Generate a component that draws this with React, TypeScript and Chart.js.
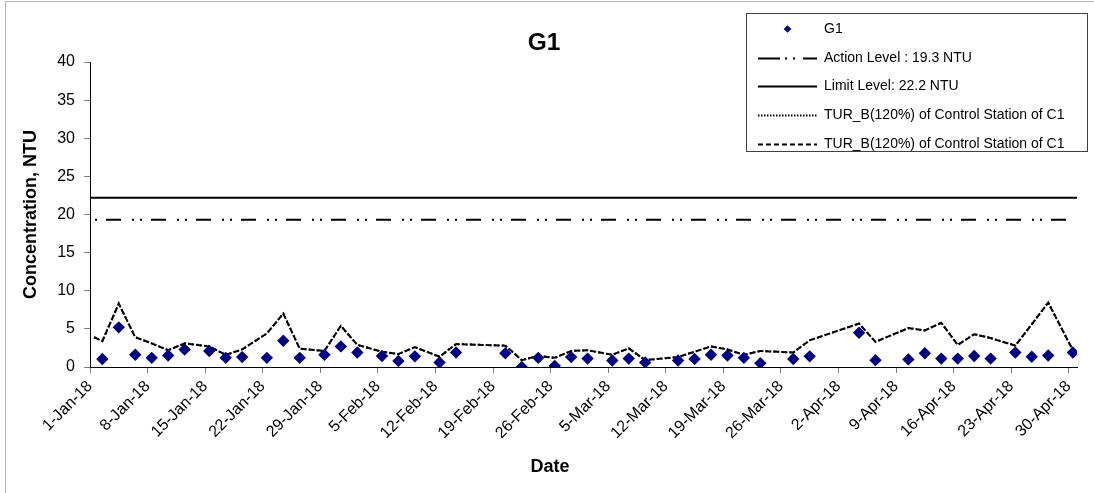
import React, { useEffect, useRef } from 'react';
import { Chart, registerables } from 'chart.js';

Chart.register(...registerables);

const FONT = '"Liberation Sans", Arial, Helvetica, sans-serif';

// ---- data ----
const axisStartDate = '2018-01-01';
const axisDays = 120;

const sampleDates = [
  '2018-01-01', '2018-01-02', '2018-01-04', '2018-01-06', '2018-01-08', '2018-01-10', '2018-01-12',
  '2018-01-15', '2018-01-17', '2018-01-19', '2018-01-22', '2018-01-24', '2018-01-26', '2018-01-29',
  '2018-01-31', '2018-02-02', '2018-02-05', '2018-02-07', '2018-02-09', '2018-02-12', '2018-02-14',
  '2018-02-20', '2018-02-22', '2018-02-24', '2018-02-26', '2018-02-28', '2018-03-02', '2018-03-05',
  '2018-03-07', '2018-03-09', '2018-03-13', '2018-03-15', '2018-03-17', '2018-03-19', '2018-03-21',
  '2018-03-23', '2018-03-27', '2018-03-29', '2018-04-04', '2018-04-06', '2018-04-10', '2018-04-12',
  '2018-04-14', '2018-04-16', '2018-04-18', '2018-04-20', '2018-04-23', '2018-04-25', '2018-04-27',
  '2018-04-30',
];

const g1Values: (number | null)[] = [
  null, 1.05, 5.2, 1.6, 1.2, 1.5, 2.3,
  2.1, 1.2, 1.3, 1.2, 3.45, 1.2, 1.6,
  2.7, 1.9, 1.45, 0.8, 1.4, 0.6, 1.9,
  1.8, 0.0, 1.2, 0.15, 1.3, 1.1, 0.85,
  1.1, 0.6, 0.85, 1.05, 1.6, 1.5, 1.2,
  0.5, 1.05, 1.4, 4.5, 0.9, 1.0, 1.8,
  1.1, 1.1, 1.45, 1.1, 1.9, 1.35, 1.5,
  1.9,
];

const turbValues = [
  3.9, 3.4, 8.3, 3.9, 3.1, 2.2, 3.1,
  2.7, 1.6, 2.3, 4.4, 7.0, 2.4, 2.1,
  5.4, 2.9, 2.0, 1.7, 2.6, 1.35, 3.0,
  2.8, 0.9, 1.45, 1.2, 2.1, 2.2, 1.6,
  2.45, 0.9, 1.3, 2.0, 2.7, 2.3, 1.6,
  2.1, 1.9, 3.5, 5.7, 3.3, 5.1, 4.8,
  5.8, 2.9, 4.3, 3.8, 2.8, 5.6, 8.45,
  2.2,
];

const actionLevel = 19.3;
const limitLevel = 22.2;

const xTickLabels = [
  '1-Jan-18', '8-Jan-18', '15-Jan-18', '22-Jan-18', '29-Jan-18', '5-Feb-18', '12-Feb-18',
  '19-Feb-18', '26-Feb-18', '5-Mar-18', '12-Mar-18', '19-Mar-18', '26-Mar-18', '2-Apr-18',
  '9-Apr-18', '16-Apr-18', '23-Apr-18', '30-Apr-18',
];
const xTickStepDays = 7;

const yMin = 0;
const yMax = 40;
const yStep = 5;

const seriesLabels = [
  'G1',
  'Action Level : 19.3 NTU',
  'Limit Level: 22.2 NTU',
  'TUR_B(120%) of Control Station of C1',
  'TUR_B(120%) of Control Station of C1',
];

const chartTitle = 'G1';
const xAxisTitle = 'Date';
const yAxisTitle = 'Concentration, NTU';

// ---- helpers ----
const DAY_MS = 86400000;
const dayIndex = (iso: string) => (Date.parse(iso) - Date.parse(axisStartDate)) / DAY_MS;
// each sample sits in the middle of its day on the date axis
const xOf = (iso: string) => dayIndex(iso) + 0.5;

const NAVY = '#000080';

const backgroundPlugin = {
  id: 'bgFrame',
  beforeDraw(chart: any) {
    const { ctx, width, height } = chart;
    ctx.save();
    ctx.fillStyle = '#ffffff';
    ctx.fillRect(0, 0, width, height);
    ctx.strokeStyle = '#b4b4b4';
    ctx.lineWidth = 1;
    ctx.beginPath();
    ctx.moveTo(5.5, height + 5);
    ctx.lineTo(5.5, 1.5);
    ctx.lineTo(width + 5, 1.5);
    ctx.stroke();
    ctx.restore();
  },
};

const titlesPlugin = {
  id: 'titles',
  afterDraw(chart: any) {
    const { ctx } = chart;
    ctx.save();
    ctx.fillStyle = '#000';
    ctx.textAlign = 'center';
    ctx.textBaseline = 'middle';
    ctx.font = `bold 24.5px ${FONT}`;
    ctx.fillText(chartTitle, 544, 43);
    ctx.font = `bold 18px ${FONT}`;
    ctx.fillText(xAxisTitle, 550, 467);
    ctx.restore();
  },
};

const legendPlugin = {
  id: 'boxLegend',
  afterDraw(chart: any) {
    const { ctx } = chart;
    const ds = chart.data.datasets;
    const box = { left: 746, top: 13, right: 1087, bottom: 151 };
    ctx.save();
    ctx.fillStyle = '#ffffff';
    ctx.fillRect(box.left, box.top, box.right - box.left, box.bottom - box.top);
    ctx.strokeStyle = '#404040';
    ctx.lineWidth = 1;
    ctx.strokeRect(box.left + 0.5, box.top + 0.5, box.right - box.left, box.bottom - box.top);

    const rowY = [29, 58, 86, 115, 144];
    const symL = 758;
    const symR = 817;
    const textX = 824;
    ds.forEach((d: any, i: number) => {
      const y = rowY[i];
      ctx.save();
      if (i === 0) {
        ctx.fillStyle = d.backgroundColor;
        ctx.beginPath();
        const cx = 787.5;
        const r = 3.8;
        ctx.moveTo(cx, y - r);
        ctx.lineTo(cx + r, y);
        ctx.lineTo(cx, y + r);
        ctx.lineTo(cx - r, y);
        ctx.closePath();
        ctx.fill();
      } else {
        ctx.strokeStyle = d.borderColor;
        ctx.lineWidth = d.borderWidth;
        ctx.setLineDash(d.legendDash || d.borderDash || []);
        ctx.beginPath();
        ctx.moveTo(symL, y + 0.5);
        ctx.lineTo(symR, y + 0.5);
        ctx.stroke();
      }
      ctx.restore();
      ctx.fillStyle = '#000';
      ctx.font = `14px ${FONT}`;
      ctx.textAlign = 'left';
      ctx.textBaseline = 'middle';
      ctx.fillText(d.label, textX, y + 0.5);
    });
    ctx.restore();
  },
};

export default function App() {
  const canvasRef = useRef<HTMLCanvasElement | null>(null);

  useEffect(() => {
    const canvas = canvasRef.current;
    if (!canvas) return;

    const g1Points = sampleDates
      .map((d, i) => (g1Values[i] === null ? null : { x: xOf(d), y: g1Values[i] as number }))
      .filter((p) => p !== null) as { x: number; y: number }[];
    const turbPoints = sampleDates.map((d, i) => ({ x: xOf(d), y: turbValues[i] }));
    const actionPoints = [{ x: 0, y: actionLevel }, { x: axisDays, y: actionLevel }];
    const limitPoints = [{ x: 0, y: limitLevel }, { x: axisDays, y: limitLevel }];

    const chart = new Chart(canvas, {
      type: 'line',
      data: {
        datasets: [
          {
            label: seriesLabels[0],
            data: g1Points,
            showLine: false,
            pointStyle: 'rectRot',
            pointRadius: 6.2,
            pointBackgroundColor: NAVY,
            pointBorderColor: NAVY,
            pointBorderWidth: 0,
            backgroundColor: NAVY,
            borderColor: NAVY,
          },
          {
            label: seriesLabels[1],
            data: actionPoints,
            borderColor: '#000',
            borderWidth: 2,
            borderDash: [15, 11, 2, 6, 2, 9],
            borderDashOffset: 29,
            pointRadius: 0,
            legendDash: [22, 5, 2, 6, 2, 8],
          } as any,
          {
            label: seriesLabels[2],
            data: limitPoints,
            borderColor: '#000',
            borderWidth: 2,
            pointRadius: 0,
          },
          {
            label: seriesLabels[3],
            data: turbPoints,
            borderColor: '#000',
            borderWidth: 2,
            borderDash: [2, 2],
            pointRadius: 0,
            legendDash: [1.5, 1.5],
          } as any,
          {
            label: seriesLabels[4],
            data: turbPoints,
            borderColor: '#000',
            borderWidth: 2,
            borderDash: [5, 3],
            pointRadius: 0,
            legendDash: [5, 3],
          } as any,
        ],
      },
      options: {
        responsive: false,
        animation: false,
        events: [],
        layout: { padding: { left: 0, right: 17, top: 62, bottom: 0 } },
        plugins: {
          legend: { display: false },
          tooltip: { enabled: false },
          title: { display: false },
        },
        scales: {
          x: {
            type: 'linear',
            min: 0,
            max: axisDays,
            afterBuildTicks: (scale: any) => {
              scale.ticks = xTickLabels.map((_, i) => ({ value: i * xTickStepDays }));
            },
            afterFit: (scale: any) => {
              scale.height = 126;
            },
            ticks: {
              autoSkip: false,
              minRotation: 45,
              maxRotation: 45,
              color: '#000',
              padding: 4,
              font: { family: FONT, size: 16 },
              callback: (_v: any, i: number) => xTickLabels[i],
            },
            grid: {
              display: true,
              drawOnChartArea: false,
              drawTicks: true,
              tickLength: 6,
              color: '#808080',
            },
            border: { display: true, color: '#000', width: 1 },
          },
          y: {
            type: 'linear',
            min: yMin,
            max: yMax,
            afterFit: (scale: any) => {
              scale.width = 90;
            },
            ticks: {
              stepSize: yStep,
              color: '#000',
              padding: 9,
              font: { family: FONT, size: 16 },
            },
            grid: {
              display: true,
              drawOnChartArea: false,
              drawTicks: true,
              tickLength: 6,
              color: '#808080',
            },
            border: { display: true, color: '#000', width: 1 },
            title: {
              display: true,
              text: yAxisTitle,
              color: '#000',
              font: { family: FONT, size: 18, weight: 'bold', lineHeight: 1.2 },
              padding: { top: 20.2, bottom: 0 },
            },
          },
        },
      },
      plugins: [backgroundPlugin, titlesPlugin, legendPlugin],
    } as any);

    return () => {
      chart.destroy();
    };
  }, []);

  return (
    <div style={{ position: 'fixed', left: 0, top: 0, width: 1094, height: 493, background: '#fff' }}>
      <canvas ref={canvasRef} width={1094} height={493} style={{ display: 'block', width: 1094, height: 493 }} />
    </div>
  );
}
